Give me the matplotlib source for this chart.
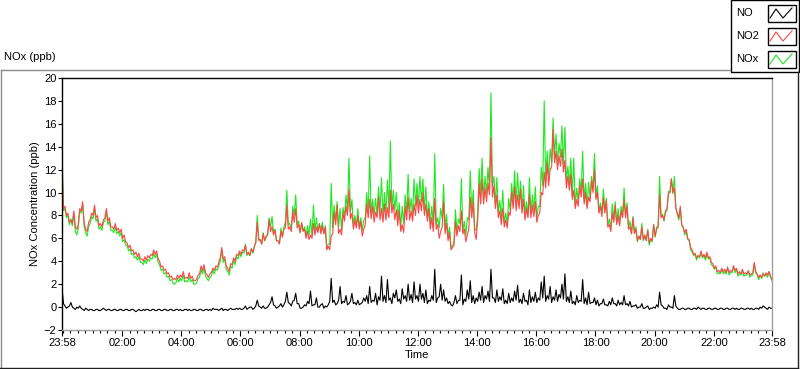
import matplotlib
matplotlib.use("Agg")
import matplotlib.pyplot as plt
import numpy as np
from matplotlib.lines import Line2D
from matplotlib.patches import Rectangle

# readings every 6 minutes from 23:58, plus the in-between readings (3 min later)
sample_minutes = np.arange(0, 1441, 6)
mid_minutes = np.arange(3, 1440, 6)

no2 = [
    12.5, 8.8, 8.2, 7.6, 8.4, 6.8, 8.6, 9.2, 6.8, 7.4,
    8.2, 8.9, 8.0, 7.3, 7.6, 8.6, 7.8, 7.0, 7.3, 6.9,
    6.8, 6.3, 5.6, 5.4, 5.0, 4.8, 4.7, 4.2, 4.4, 4.5,
    4.6, 5.0, 4.9, 4.0, 3.6, 3.3, 3.0, 2.7, 2.5, 2.8,
    2.8, 3.1, 2.6, 3.0, 2.7, 2.3, 2.8, 3.6, 3.7, 2.8,
    2.9, 3.4, 3.6, 3.9, 5.2, 4.4, 3.4, 3.8, 4.3, 4.6,
    4.9, 5.0, 5.4, 4.8, 5.1, 5.3, 7.4, 5.9, 6.4, 6.2,
    7.6, 7.0, 6.7, 5.8, 6.6, 6.8, 8.9, 7.0, 8.3, 8.6,
    7.2, 7.4, 6.8, 6.6, 6.3, 7.3, 7.0, 7.3, 7.1, 7.0,
    5.3, 6.2, 8.3, 8.9, 6.8, 8.2, 8.8, 10.3, 8.2, 7.6,
    8.0, 7.5, 6.8, 9.0, 9.4, 8.8, 8.3, 9.6, 8.6, 9.0,
    8.7, 10.2, 9.0, 8.5, 8.4, 7.2, 8.8, 9.6, 8.4, 9.0,
    9.8, 9.4, 10.0, 9.0, 8.6, 7.8, 9.5, 7.2, 6.6, 9.2,
    7.3, 6.5, 5.2, 7.5, 7.1, 8.4, 6.8, 6.3, 9.6, 9.2,
    5.9, 10.8, 11.2, 10.4, 10.8, 14.8, 10.6, 9.8, 8.4, 8.6,
    7.6, 8.3, 10.0, 10.5, 9.8, 10.3, 9.4, 8.6, 9.8, 8.9,
    9.2, 8.0, 10.0, 11.8, 12.6, 12.0, 15.5, 13.6, 13.2, 13.8,
    12.8, 11.4, 11.6, 10.2, 9.4, 10.6, 11.2, 10.0, 9.6, 11.0,
    12.0, 10.0, 8.8, 9.6, 9.3, 7.2, 8.2, 8.9, 8.0, 8.4,
    9.4, 8.8, 7.0, 7.8, 6.8, 6.2, 7.0, 6.3, 6.7, 6.0,
    7.2, 6.8, 9.8, 8.0, 8.4, 9.9, 11.2, 10.4, 8.2, 8.8,
    7.0, 6.8, 5.9, 5.0, 4.7, 4.5, 4.9, 4.6, 4.8, 4.4,
    3.8, 3.6, 3.2, 3.4, 3.3, 3.5, 3.2, 3.6, 3.4, 3.1,
    3.3, 3.0, 3.2, 2.9, 3.9, 2.9, 2.8, 2.9, 3.0, 3.1, 2.4,
]
no2_mid = [
    8.6, 8.0, 7.4, 7.3, 7.0, 7.2, 8.4, 7.3, 6.6, 7.6,
    8.0, 7.8, 7.1, 7.0, 7.8, 7.5, 7.0, 6.8, 6.7, 6.5,
    6.0, 5.7, 5.2, 4.9, 4.6, 4.4, 4.2, 4.0, 4.1, 4.3,
    4.5, 4.6, 4.2, 3.5, 3.2, 2.9, 2.6, 2.4, 2.4, 2.5,
    2.6, 2.5, 2.5, 2.5, 2.3, 2.4, 2.9, 3.2, 3.0, 2.6,
    3.0, 3.2, 3.5, 4.3, 4.2, 3.6, 3.1, 3.7, 4.0, 4.5,
    4.6, 4.9, 4.6, 4.5, 4.8, 5.6, 5.8, 5.5, 5.8, 6.3,
    6.6, 6.3, 5.8, 5.5, 6.1, 6.9, 6.8, 6.6, 7.4, 6.9,
    6.5, 6.6, 6.0, 5.9, 6.0, 6.3, 6.5, 6.4, 6.4, 5.0,
    5.0, 6.4, 7.2, 6.4, 6.3, 7.5, 8.0, 7.7, 6.8, 6.9,
    6.8, 6.2, 7.2, 7.8, 7.7, 7.4, 7.8, 7.6, 7.4, 7.6,
    7.8, 8.2, 7.6, 7.1, 6.6, 6.5, 7.6, 7.6, 7.5, 8.0,
    8.2, 8.4, 8.0, 7.5, 6.8, 6.6, 6.8, 6.0, 7.0, 6.4,
    5.8, 5.0, 5.4, 6.2, 6.6, 6.4, 5.7, 6.8, 7.8, 6.5,
    7.5, 9.0, 9.0, 9.2, 9.8, 9.6, 8.6, 7.8, 7.2, 7.0,
    6.9, 8.0, 8.6, 8.4, 8.6, 8.2, 7.6, 7.8, 7.8, 7.9,
    7.4, 8.2, 9.8, 10.4, 10.6, 12.2, 12.6, 12.0, 12.3, 11.8,
    10.4, 10.2, 9.4, 8.6, 8.8, 9.6, 9.0, 8.6, 9.2, 10.0,
    9.4, 8.2, 7.9, 8.2, 7.0, 6.6, 7.4, 7.2, 7.1, 7.8,
    7.8, 6.8, 6.4, 6.4, 5.8, 5.9, 5.9, 5.8, 5.6, 5.8,
    6.2, 7.0, 7.8, 7.6, 8.6, 10.0, 10.0, 8.6, 7.8, 7.2,
    6.5, 6.0, 5.2, 4.6, 4.3, 4.4, 4.4, 4.3, 4.3, 3.9,
    3.4, 3.1, 3.0, 3.1, 3.0, 3.0, 3.1, 3.2, 2.9, 2.9,
    2.9, 2.9, 2.8, 3.0, 3.1, 2.6, 2.6, 2.7, 2.8, 2.7,
]

nox = [
    14.2, 8.6, 8.0, 7.7, 8.2, 6.3, 8.5, 8.9, 6.5, 7.0,
    7.9, 8.6, 7.7, 7.0, 7.4, 8.3, 7.5, 6.7, 7.0, 6.6,
    6.5, 5.9, 5.4, 5.1, 4.7, 4.4, 4.4, 3.9, 4.1, 4.2,
    4.3, 4.7, 4.6, 3.7, 3.3, 3.0, 2.7, 2.4, 2.0, 2.5,
    2.5, 2.8, 2.3, 2.7, 2.4, 2.0, 2.5, 3.3, 3.4, 2.5,
    2.6, 3.2, 3.4, 3.6, 5.0, 4.2, 3.1, 3.6, 4.1, 4.4,
    4.7, 4.8, 5.5, 4.7, 5.1, 5.2, 8.0, 5.9, 6.5, 6.1,
    7.8, 7.9, 6.8, 5.8, 6.9, 7.0, 10.2, 7.3, 8.8, 9.8,
    7.5, 7.3, 7.0, 7.1, 7.7, 8.9, 7.8, 7.3, 7.4, 7.1,
    5.5, 10.8, 8.9, 9.2, 8.6, 8.7, 9.8, 13.0, 9.4, 8.0,
    8.6, 7.8, 7.6, 10.0, 13.2, 9.4, 9.5, 10.5, 11.3, 10.0,
    11.1, 14.5, 10.2, 10.0, 9.1, 8.8, 9.8, 11.6, 9.5, 11.2,
    10.8, 11.4, 11.2, 10.5, 9.2, 8.8, 13.4, 7.8, 8.6, 10.7,
    8.1, 7.0, 5.3, 8.5, 7.7, 11.2, 7.5, 7.8, 11.9, 10.2,
    6.7, 12.1, 13.0, 11.4, 12.2, 18.7, 11.4, 11.3, 9.3, 10.2,
    8.2, 9.5, 10.8, 11.9, 11.7, 11.0, 10.6, 9.2, 11.3, 9.8,
    10.5, 8.8, 12.2, 18.0, 13.6, 13.8, 16.5, 15.1, 14.3, 15.8,
    15.7, 12.3, 13.0, 13.0, 10.4, 11.2, 13.6, 10.8, 10.9, 11.4,
    13.4, 10.6, 9.1, 10.3, 9.5, 7.7, 9.0, 9.2, 8.6, 8.8,
    10.4, 9.1, 7.5, 7.9, 7.0, 6.2, 7.3, 6.2, 6.8, 5.9,
    7.2, 7.0, 11.4, 8.1, 8.3, 10.1, 11.2, 11.4, 8.1, 8.6,
    6.9, 6.6, 5.8, 4.8, 4.6, 4.5, 4.7, 4.5, 4.6, 4.3,
    3.6, 3.5, 3.0, 3.3, 3.1, 3.4, 3.0, 3.5, 3.3, 2.9,
    3.2, 2.8, 3.1, 2.8, 3.7, 2.8, 2.8, 3.0, 2.9, 3.1, 2.3,
]
nox_mid = [
    8.4, 7.8, 7.2, 7.1, 6.6, 6.9, 8.2, 7.0, 6.2, 7.3,
    7.7, 7.5, 6.8, 6.7, 7.5, 7.2, 6.7, 6.5, 6.4, 6.2,
    5.7, 5.4, 4.9, 4.6, 4.3, 4.1, 3.9, 3.7, 3.8, 4.0,
    4.2, 4.3, 3.9, 3.2, 2.9, 2.6, 2.3, 2.1, 2.1, 2.2,
    2.3, 2.2, 2.2, 2.2, 2.0, 2.1, 2.6, 2.9, 2.7, 2.3,
    2.7, 2.9, 3.2, 4.0, 3.9, 3.3, 2.8, 3.4, 3.7, 4.2,
    4.4, 4.7, 4.5, 4.5, 4.7, 5.7, 5.9, 5.5, 5.8, 6.3,
    7.0, 6.5, 5.8, 5.6, 6.2, 7.4, 7.2, 6.8, 8.0, 7.2,
    6.5, 6.7, 6.2, 6.3, 6.2, 6.6, 6.6, 6.7, 6.4, 5.1,
    5.5, 6.9, 7.5, 7.0, 6.7, 7.9, 8.3, 8.3, 7.2, 7.1,
    7.0, 6.7, 7.8, 8.2, 8.2, 8.0, 8.0, 8.3, 7.9, 8.1,
    8.5, 8.6, 8.5, 7.7, 6.9, 7.3, 8.2, 8.3, 8.0, 8.8,
    8.8, 9.2, 8.4, 7.8, 7.3, 7.2, 7.2, 6.9, 7.7, 6.9,
    6.1, 5.2, 5.8, 6.5, 7.3, 6.6, 6.2, 7.6, 8.3, 6.8,
    8.0, 9.7, 9.4, 9.9, 10.3, 10.5, 9.0, 8.3, 7.8, 7.3,
    7.2, 8.4, 9.1, 9.0, 9.0, 8.5, 8.1, 8.0, 8.2, 8.4,
    7.8, 8.8, 10.6, 10.9, 11.3, 12.6, 13.2, 12.5, 13.1, 12.5,
    10.9, 10.6, 9.7, 8.8, 9.2, 10.1, 9.3, 8.8, 9.5, 10.4,
    9.6, 8.3, 8.2, 8.4, 7.1, 6.8, 7.7, 7.3, 7.3, 8.0,
    8.0, 6.9, 6.4, 6.5, 5.7, 5.9, 5.8, 5.8, 5.4, 5.7,
    6.1, 7.0, 8.0, 7.5, 8.4, 10.0, 9.9, 8.7, 7.6, 7.1,
    6.3, 5.9, 5.0, 4.5, 4.1, 4.3, 4.3, 4.1, 4.2, 3.7,
    3.3, 2.9, 2.9, 2.9, 2.9, 2.8, 3.0, 3.0, 2.7, 2.8,
    2.7, 2.8, 2.6, 2.8, 3.0, 2.4, 2.5, 2.7, 2.6, 2.6,
]

no = [
    1.7, 0.1, 0.0, 0.4, -0.1, 0.0, 0.1, -0.2, -0.1, -0.3,
    -0.2, -0.3, -0.2, -0.3, -0.1, -0.3, -0.2, -0.3, -0.2, -0.3,
    -0.2, -0.3, -0.2, -0.3, -0.2, -0.4, -0.2, -0.3, -0.3, -0.2,
    -0.3, -0.2, -0.3, -0.2, -0.3, -0.2, -0.3, -0.2, -0.3, -0.2,
    -0.2, -0.3, -0.2, -0.2, -0.3, -0.2, -0.3, -0.2, -0.3, -0.2,
    -0.2, -0.1, -0.2, -0.3, -0.1, -0.2, -0.3, -0.1, -0.2, -0.1,
    -0.1, -0.2, 0.1, -0.1, 0.0, -0.1, 0.6, 0.0, 0.1, -0.1,
    0.2, 0.9, 0.1, 0.0, 0.3, 0.2, 1.3, 0.3, 0.5, 1.2,
    0.3, -0.1, 0.2, 0.5, 1.4, 0.2, 0.8, 0.0, 0.3, 0.1,
    0.2, 2.5, 0.6, 0.3, 1.8, 0.5, 1.0, 0.3, 1.2, 0.4,
    0.6, 0.3, 0.8, 1.0, 1.8, 0.6, 1.2, 0.9, 2.7, 1.0,
    2.4, 0.8, 1.2, 1.5, 0.7, 1.6, 1.0, 2.0, 1.1, 2.2,
    1.0, 2.0, 1.2, 1.5, 0.6, 1.0, 3.3, 0.8, 2.0, 1.5,
    0.8, 0.5, 0.1, 1.0, 0.6, 2.8, 0.7, 1.5, 2.3, 1.0,
    0.8, 1.3, 1.8, 1.0, 1.4, 3.3, 0.8, 1.5, 0.9, 1.6,
    0.6, 1.2, 0.8, 1.4, 1.9, 0.7, 1.2, 0.6, 1.5, 0.9,
    1.3, 0.8, 2.2, 2.7, 1.0, 1.8, 0.9, 1.5, 1.1, 2.0,
    2.9, 0.9, 1.4, 0.5, 1.0, 0.6, 2.4, 0.8, 1.3, 0.4,
    0.8, 0.6, 0.3, 0.7, 0.2, 0.5, 0.8, 0.3, 0.6, 0.4,
    1.0, 0.3, 0.5, 0.1, 0.2, 0.0, 0.3, -0.1, 0.1, -0.1,
    0.0, 0.2, 1.3, 0.1, -0.1, 0.2, 0.0, 1.0, -0.1, -0.2,
    -0.1, -0.2, -0.1, -0.2, -0.1, 0.0, -0.2, -0.1, -0.2, -0.1,
    -0.2, -0.1, -0.2, -0.1, -0.2, -0.1, -0.2, -0.1, -0.1, -0.2,
    -0.1, -0.2, -0.1, -0.1, -0.2, -0.1, 0.0, 0.1, -0.1, 0.0, -0.1,
]
no_mid = [
    0.3, -0.1, 0.1, 0.0, -0.2, -0.1, -0.1, -0.3, -0.2, -0.2,
    -0.3, -0.2, -0.3, -0.2, -0.2, -0.2, -0.3, -0.2, -0.3, -0.2,
    -0.3, -0.2, -0.3, -0.2, -0.3, -0.3, -0.3, -0.2, -0.2, -0.3,
    -0.2, -0.3, -0.2, -0.3, -0.2, -0.3, -0.2, -0.3, -0.2, -0.3,
    -0.3, -0.2, -0.3, -0.3, -0.2, -0.3, -0.2, -0.3, -0.2, -0.3,
    -0.3, -0.2, -0.2, -0.2, -0.3, -0.2, -0.2, -0.2, -0.2, -0.2,
    -0.2, -0.1, -0.2, 0.0, -0.2, 0.1, 0.1, -0.1, -0.1, 0.0,
    0.4, 0.2, -0.1, 0.1, 0.0, 0.5, 0.4, 0.1, 0.6, 0.3,
    -0.1, 0.0, 0.1, 0.3, 0.1, 0.2, 0.0, 0.2, -0.1, 0.0,
    0.5, 0.4, 0.2, 0.6, 0.3, 0.4, 0.2, 0.5, 0.3, 0.2,
    0.2, 0.4, 0.5, 0.3, 0.4, 0.5, 0.2, 0.6, 0.5, 0.4,
    0.6, 0.3, 0.8, 0.5, 0.3, 0.7, 0.5, 0.6, 0.4, 0.7,
    0.5, 0.7, 0.4, 0.3, 0.5, 0.6, 0.4, 0.9, 0.6, 0.5,
    0.3, 0.2, 0.4, 0.3, 0.6, 0.2, 0.5, 0.7, 0.4, 0.3,
    0.5, 0.6, 0.4, 0.7, 0.5, 0.8, 0.4, 0.5, 0.6, 0.3,
    0.3, 0.4, 0.5, 0.6, 0.4, 0.3, 0.5, 0.2, 0.4, 0.5,
    0.4, 0.6, 0.8, 0.5, 0.7, 0.4, 0.6, 0.5, 0.8, 0.7,
    0.5, 0.4, 0.3, 0.2, 0.4, 0.5, 0.3, 0.2, 0.3, 0.4,
    0.2, 0.1, 0.3, 0.2, 0.1, 0.2, 0.3, 0.1, 0.2, 0.2,
    0.2, 0.1, 0.0, 0.1, -0.1, 0.0, -0.1, 0.0, -0.2, -0.1,
    -0.1, 0.0, 0.2, -0.1, -0.2, 0.0, -0.1, 0.1, -0.2, -0.1,
    -0.2, -0.1, -0.2, -0.1, -0.2, -0.1, -0.1, -0.2, -0.1, -0.2,
    -0.1, -0.2, -0.1, -0.2, -0.1, -0.2, -0.1, -0.2, -0.2, -0.1,
    -0.2, -0.1, -0.2, -0.2, -0.1, -0.2, -0.1, 0.0, -0.2, -0.1,
]

tick_labels = ["23:58", "02:00", "04:00", "06:00", "08:00", "10:00", "12:00",
               "14:00", "16:00", "18:00", "20:00", "22:00", "23:58"]
y_ticks = list(range(-2, 21, 2))

series_names = ["NO", "NO2", "NOx"]
series_colors = ["#000000", "#ff4545", "#1ee81e"]


def merge(main, mid):
    """Interleave the 6-minute readings with the in-between ones."""
    out = np.empty(len(main) + len(mid))
    out[0::2] = main
    out[1::2] = mid
    return out


minutes = merge(sample_minutes, mid_minutes)
hours = minutes / 60.0

plt.rcParams["font.family"] = ["Liberation Sans", "DejaVu Sans"]
plt.rcParams["font.size"] = 8

W, H = 800, 369
fig = plt.figure(figsize=(W / 100, H / 100), dpi=100)


def fx(x):
    return x / W


def fy(y):
    return 1 - y / H


ax = fig.add_axes([fx(62), fy(330), fx(772) - fx(62), fy(78) - fy(330)])

ax.plot(hours, merge(no, no_mid), color=series_colors[0], lw=0.8)
ax.plot(hours, merge(nox, nox_mid), color=series_colors[2], lw=0.8)
ax.plot(hours, merge(no2, no2_mid), color=series_colors[1], lw=0.8)

ax.set_xlim(0, 24)
ax.set_ylim(-2, 20)

# major ticks on the even clock hours, minor every quarter hour
offset = 2 / 60.0
major = [0] + [offset + 2 * k for k in range(1, 12)] + [24]
ax.set_xticks(major)
ax.set_xticklabels(tick_labels)
minor = [offset + 0.25 * k for k in range(96) if 0 < offset + 0.25 * k < 24]
ax.set_xticks(minor, minor=True)
ax.set_yticks(y_ticks)

ax.tick_params(axis="x", which="major", length=4, width=0.8, pad=2, labelsize=8)
ax.tick_params(axis="x", which="minor", length=2.5, width=0.8)
ax.tick_params(axis="y", which="major", length=3, width=0.8, pad=1, labelsize=8)

for side in ["top", "left"]:
    ax.spines[side].set_color("black")
    ax.spines[side].set_linewidth(1.0)
for side in ["bottom", "right"]:
    ax.spines[side].set_color("#a0a0a0")
    ax.spines[side].set_linewidth(1.0)

ax.set_xlabel("Time", fontsize=8, labelpad=1)
ax.set_ylabel("NOx Concentration (ppb)", fontsize=8, labelpad=3)

# outer panel frame
fig.add_artist(Line2D([fx(0.5), fx(730)], [fy(69.5), fy(69.5)], color="#8c8c8c", lw=1.0))
fig.add_artist(Line2D([fx(0.5), fx(0.5)], [fy(69.5), fy(368)], color="#8c8c8c", lw=1.0))
fig.add_artist(Line2D([fx(0), fx(798)], [fy(367.5), fy(367.5)], color="#202020", lw=1.0))
fig.add_artist(Line2D([fx(797.5), fx(797.5)], [fy(72), fy(368)], color="#202020", lw=1.0))

fig.text(fx(4), fy(57), "NOx (ppb)", fontsize=8, va="center", ha="left")

# legend panel
fig.add_artist(Rectangle((fx(730.5), fy(72)), fx(799) - fx(730.5), fy(0) - fy(72),
                         transform=fig.transFigure, facecolor="white",
                         edgecolor="black", lw=1.0))
for k, (name, col) in enumerate(zip(series_names, series_colors)):
    yc = 13 + 23 * k
    fig.text(fx(736), fy(yc), name, fontsize=8, va="center", ha="left")
    fig.add_artist(Rectangle((fx(767.5), fy(yc + 9)), fx(796) - fx(767.5), fy(yc - 8) - fy(yc + 9),
                             transform=fig.transFigure, facecolor="white",
                             edgecolor="black", lw=1.0))
    zx = [770, 776, 783, 792]
    zy = [yc + 5, yc - 4, yc + 5, yc - 5]
    fig.add_artist(Line2D([fx(v) for v in zx], [fy(v) for v in zy], color=col, lw=0.8))

fig.savefig("out.png", dpi=100)
